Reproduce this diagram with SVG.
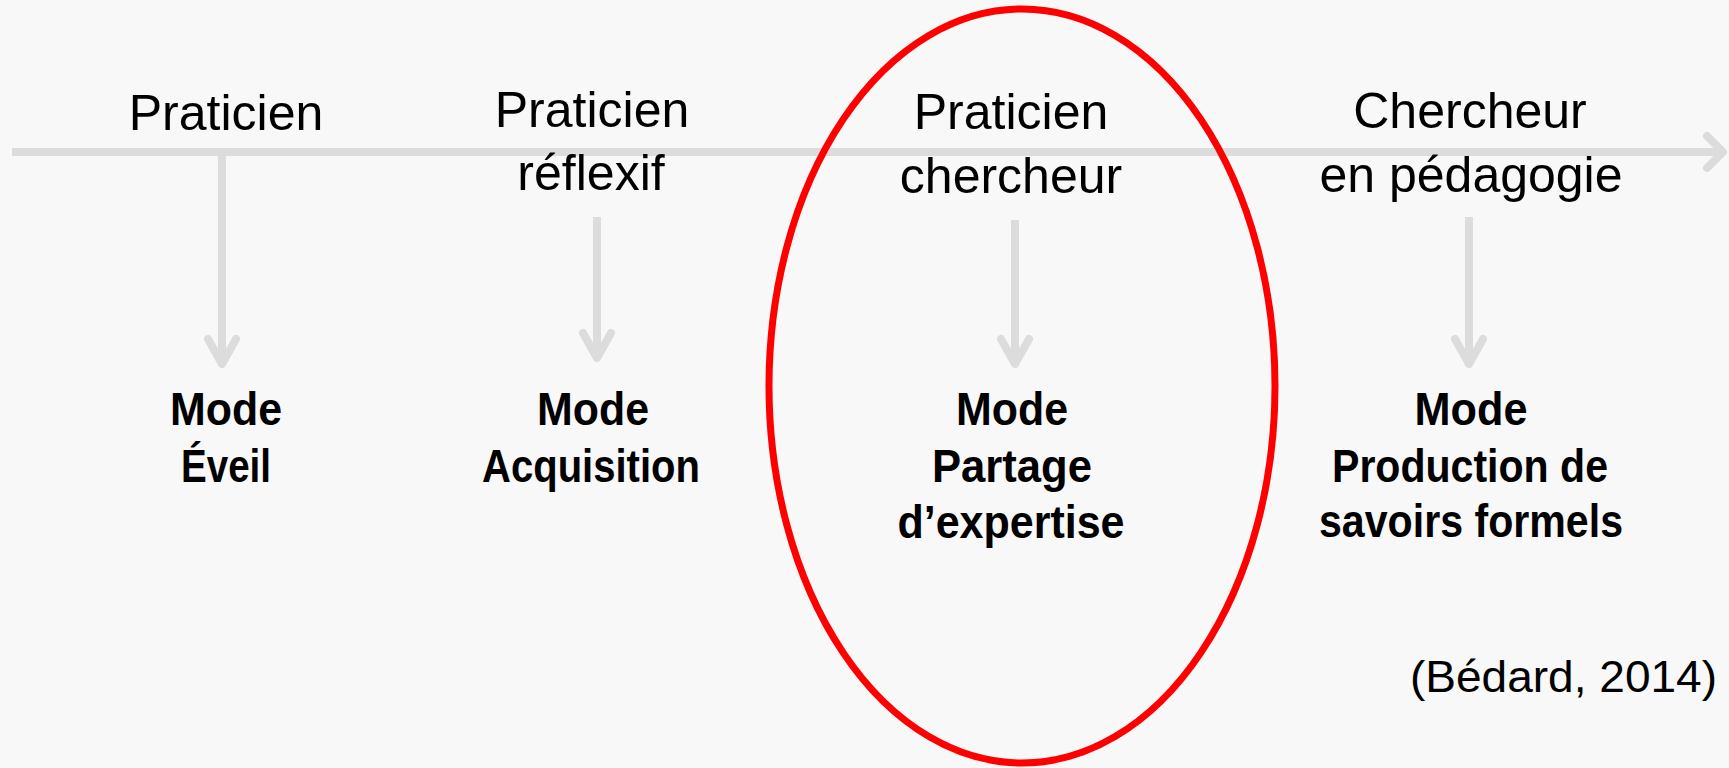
<svg xmlns="http://www.w3.org/2000/svg" width="1729" height="768" viewBox="0 0 1729 768">
  <style>
    .bg { fill: #f8f8f8; }
    .conn { stroke: #dcdcdc; stroke-width: 8; fill: none; stroke-linecap: butt; }
    .head { stroke: #dcdcdc; stroke-width: 8; fill: none; stroke-linecap: round; stroke-linejoin: round; }
    .role { font-family: "Liberation Sans", Arial, sans-serif; font-size: 50px; fill: #000; text-anchor: middle; }
    .mode { font-family: "Liberation Sans", Arial, sans-serif; font-size: 46px; font-weight: bold; fill: #000; text-anchor: middle; }
    .cite { font-family: "Liberation Sans", Arial, sans-serif; font-size: 44px; fill: #000; text-anchor: end; }
    .focus { fill: none; stroke: #ff0000; stroke-width: 7; }
  </style>
  <defs>
    <marker id="chev" markerUnits="userSpaceOnUse" markerWidth="60" markerHeight="60" viewBox="-35 -30 60 60" refX="0" refY="0" orient="auto" overflow="visible">
      <path class="head" d="M -25 -14 L 0 0 L -25 14"/>
    </marker>
  </defs>
  <rect class="bg" x="0" y="0" width="1729" height="768"/>

  <g id="connectors">
    <line class="conn" x1="12" y1="152" x2="1722" y2="152"/>
    <path class="head" d="M 1707 136 L 1723 152 L 1707 168"/>
    <line class="conn" x1="222" y1="152" x2="222" y2="364" marker-end="url(#chev)"/>
    <line class="conn" x1="597" y1="217" x2="597" y2="358" marker-end="url(#chev)"/>
    <line class="conn" x1="1015" y1="220" x2="1015" y2="364" marker-end="url(#chev)"/>
    <line class="conn" x1="1469" y1="217" x2="1469" y2="364" marker-end="url(#chev)"/>
  </g>

  <g id="node-praticien">
    <text class="role" x="226" y="130">Praticien</text>
  </g>
  <g id="node-praticien-reflexif">
    <text class="role" x="592" y="127">Praticien</text>
    <text class="role" x="591" y="190">réflexif</text>
  </g>
  <g id="node-praticien-chercheur">
    <text class="role" x="1011" y="129">Praticien</text>
    <text class="role" x="1011" y="193">chercheur</text>
  </g>
  <g id="node-chercheur-pedagogie">
    <text class="role" x="1470" y="128">Chercheur</text>
    <text class="role" x="1471" y="192">en pédagogie</text>
  </g>

  <g id="node-mode-eveil">
    <text class="mode" x="226" y="425" textLength="112" lengthAdjust="spacingAndGlyphs">Mode</text>
    <text class="mode" x="226" y="482" textLength="90" lengthAdjust="spacingAndGlyphs">Éveil</text>
  </g>
  <g id="node-mode-acquisition">
    <text class="mode" x="593" y="425" textLength="112" lengthAdjust="spacingAndGlyphs">Mode</text>
    <text class="mode" x="591" y="482" textLength="218" lengthAdjust="spacingAndGlyphs">Acquisition</text>
  </g>
  <g id="node-mode-partage">
    <text class="mode" x="1012" y="425" textLength="112" lengthAdjust="spacingAndGlyphs">Mode</text>
    <text class="mode" x="1012" y="482" textLength="160" lengthAdjust="spacingAndGlyphs">Partage</text>
    <text class="mode" x="1011" y="538" textLength="227" lengthAdjust="spacingAndGlyphs">d’expertise</text>
  </g>
  <g id="node-mode-production">
    <text class="mode" x="1471" y="425" textLength="113" lengthAdjust="spacingAndGlyphs">Mode</text>
    <text class="mode" x="1470" y="482" textLength="276" lengthAdjust="spacingAndGlyphs">Production de</text>
    <text class="mode" x="1471" y="537" textLength="304" lengthAdjust="spacingAndGlyphs">savoirs formels</text>
  </g>

  <g id="highlight">
    <ellipse class="focus" cx="1022" cy="386" rx="253" ry="377"/>
  </g>

  <g id="citation">
    <text class="cite" x="1717" y="692" textLength="307" lengthAdjust="spacingAndGlyphs">(Bédard, 2014)</text>
  </g>
</svg>
